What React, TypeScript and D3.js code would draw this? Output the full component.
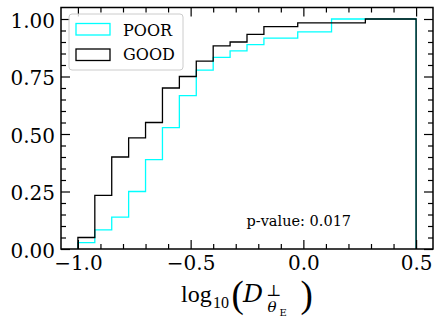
import { useEffect, useRef } from 'react'
import * as d3 from 'd3'

// histogram bin edges (20 bins between -1.0 and 0.5)
const BIN_EDGES = [
  -1.0, -0.925, -0.85, -0.775, -0.7, -0.625, -0.55, -0.475, -0.4, -0.325, -0.25,
  -0.175, -0.1, -0.025, 0.05, 0.125, 0.2, 0.275, 0.35, 0.425, 0.5,
]

// cumulative counts per bin
const POOR_CUM = [1, 3, 5, 9, 14, 19, 24, 28, 30, 31, 32, 33, 33, 34, 34, 36, 36, 36, 36, 36]
const POOR_N = 36
const GOOD_CUM = [3, 14, 24, 29, 33, 42, 45, 49, 53, 54, 56, 58, 58, 59, 59, 59, 59, 60, 60, 60]
const GOOD_N = 60

const SERIES = [
  { name: 'POOR', color: '#00ffff', cum: POOR_CUM, n: POOR_N },
  { name: 'GOOD', color: '#000000', cum: GOOD_CUM, n: GOOD_N },
]

const X_MAJOR = [-1.0, -0.5, 0.0, 0.5]
const Y_MAJOR = [0, 0.25, 0.5, 0.75, 1.0]
const P_VALUE = '0.017'

const W = 442
const H = 323
const M = { top: 7.5, right: 9, bottom: 74, left: 61 }
const TICK_FONT = '"DejaVu Serif", serif'

export default function App() {
  const ref = useRef<SVGGElement>(null)

  useEffect(() => {
    if (!ref.current) return
    const g = d3.select(ref.current)
    g.selectAll('*').remove()

    const innerW = W - M.left - M.right
    const innerH = H - M.top - M.bottom
    const x = d3.scaleLinear().domain([-1.075, 0.575]).range([0, innerW])
    const y = d3.scaleLinear().domain([0, 1.05]).range([innerH, 0])

    const xMinor = d3.range(-10, 6).map((i) => i / 10).filter((v) => !X_MAJOR.some((m) => Math.abs(m - v) < 1e-9))
    const yMinor = d3.range(0, 21).map((i) => i / 20).filter((v) => !Y_MAJOR.some((m) => Math.abs(m - v) < 1e-9))

    // step outlines
    const line = d3
      .line<[number, number]>()
      .x((d) => x(d[0]))
      .y((d) => y(d[1]))

    SERIES.forEach((s) => {
      const pts: [number, number][] = [[BIN_EDGES[0], 0]]
      s.cum.forEach((c, i) => {
        pts.push([BIN_EDGES[i], c / s.n])
        pts.push([BIN_EDGES[i + 1], c / s.n])
      })
      pts.push([BIN_EDGES[BIN_EDGES.length - 1], 0])
      g.append('path')
        .attr('d', line(pts))
        .attr('fill', 'none')
        .attr('stroke', s.color)
        .attr('stroke-width', 1.3)
    })

    const styleAxis = (sel: any) => {
      sel.select('.domain').remove()
      sel.selectAll('.tick line').attr('stroke', '#000').attr('stroke-width', 1.2)
      sel.selectAll('text').attr('font-family', TICK_FONT).attr('font-size', 20).attr('fill', '#000')
    }

    // major ticks, inward
    g.append('g')
      .attr('transform', `translate(0,${innerH})`)
      .call(d3.axisBottom(x).tickValues(X_MAJOR).tickSize(-9).tickPadding(7).tickFormat(d3.format('.1f')))
      .call(styleAxis)
    g.append('g')
      .call(d3.axisTop(x).tickValues(X_MAJOR).tickSize(-9).tickFormat(() => ''))
      .call(styleAxis)
    g.append('g')
      .call(d3.axisLeft(y).tickValues(Y_MAJOR).tickSize(-9).tickPadding(6).tickFormat(d3.format('.2f')))
      .call(styleAxis)
      .call((sel) => sel.selectAll('text').attr('dy', '0.4em'))
    g.append('g')
      .attr('transform', `translate(${innerW},0)`)
      .call(d3.axisRight(y).tickValues(Y_MAJOR).tickSize(-9).tickFormat(() => ''))
      .call(styleAxis)

    // minor ticks
    g.append('g')
      .attr('transform', `translate(0,${innerH})`)
      .call(d3.axisBottom(x).tickValues(xMinor).tickSize(-5).tickFormat(() => ''))
      .call(styleAxis)
    g.append('g')
      .call(d3.axisTop(x).tickValues(xMinor).tickSize(-5).tickFormat(() => ''))
      .call(styleAxis)
    g.append('g')
      .call(d3.axisLeft(y).tickValues(yMinor).tickSize(-5).tickFormat(() => ''))
      .call(styleAxis)
    g.append('g')
      .attr('transform', `translate(${innerW},0)`)
      .call(d3.axisRight(y).tickValues(yMinor).tickSize(-5).tickFormat(() => ''))
      .call(styleAxis)

    // frame
    g.append('rect')
      .attr('width', innerW)
      .attr('height', innerH)
      .attr('fill', 'none')
      .attr('stroke', '#000')
      .attr('stroke-width', 1.5)

    // legend
    const lg = g.append('g').attr('transform', 'translate(8,6.5)')
    lg.append('rect')
      .attr('width', 114)
      .attr('height', 56)
      .attr('rx', 3)
      .attr('fill', 'rgba(255,255,255,0.8)')
      .attr('stroke', '#cccccc')
      .attr('stroke-width', 1)
    SERIES.forEach((s, i) => {
      lg.append('rect')
        .attr('x', 7)
        .attr('y', 9.5 + i * 25.5)
        .attr('width', 34)
        .attr('height', 11.5)
        .attr('fill', 'none')
        .attr('stroke', s.color)
        .attr('stroke-width', 1.3)
      lg.append('text')
        .attr('x', 54)
        .attr('y', 22 + i * 24)
        .attr('font-family', TICK_FONT)
        .attr('font-size', 16)
        .attr('fill', '#000')
        .text(s.name)
    })

    // p-value annotation
    g.append('text')
      .attr('x', 246.5 - M.left)
      .attr('y', 225.5 - M.top)
      .attr('font-family', TICK_FONT)
      .attr('font-size', 14.5)
      .attr('fill', '#000')
      .text(`p-value: ${P_VALUE}`)
  }, [])

  const mf = '"Liberation Serif", "Times New Roman", serif'
  const df = '"DejaVu Serif", serif'
  return (
    <div style={{ position: 'absolute', left: 0, top: 0 }}>
      <svg width={W} height={H} style={{ display: 'block', background: '#fff' }}>
        <g ref={ref} transform={`translate(${M.left},${M.top})`} />
        {/* x axis label: log10( D^perp_{theta_E} ) */}
        <g fill="#000">
          <text x={181} y={302} fontSize={24} fontFamily={mf}>log</text>
          <text x={213} y={307.5} fontSize={16} fontFamily={mf}>10</text>
          <text x={231.5} y={307} fontSize={37} fontFamily={mf}>(</text>
          <text x={243} y={302} fontSize={25} fontStyle="italic" fontFamily={df}>D</text>
          <text x={266} y={295.7} fontSize={16} fontFamily={df}>⊥</text>
          <text x={267.5} y={312} fontSize={15} fontStyle="italic" fontFamily={df}>θ</text>
          <text x={279.5} y={315.7} fontSize={10} fontFamily={df}>E</text>
          <text x={300.5} y={307} fontSize={37} fontFamily={mf}>)</text>
        </g>
      </svg>
    </div>
  )
}
